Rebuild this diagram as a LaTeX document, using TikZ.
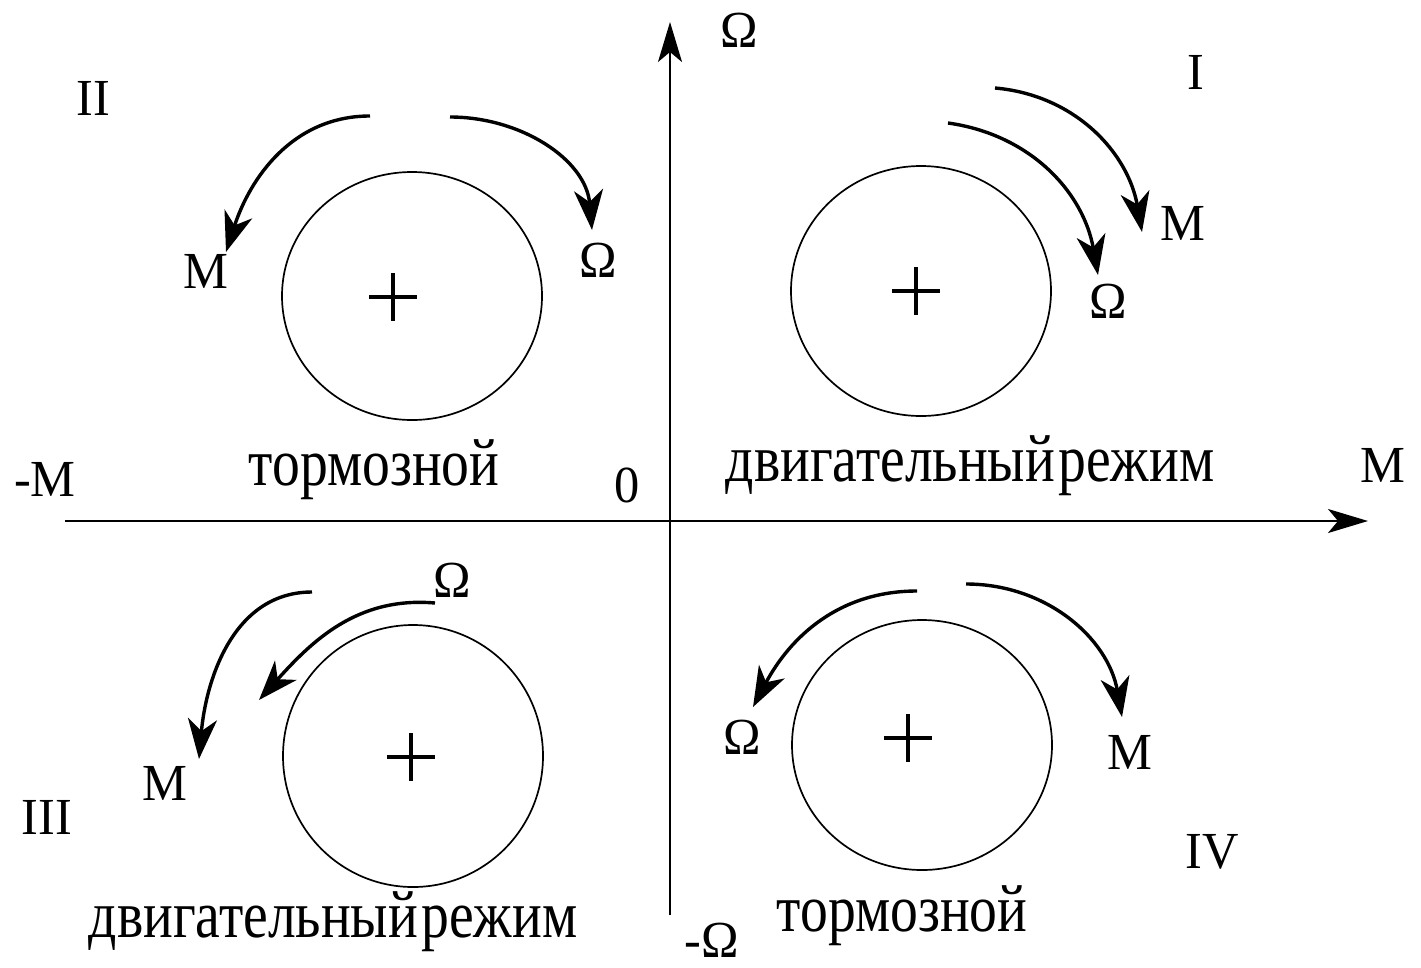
\documentclass[tikz,border=0pt]{standalone}
\usepackage{fontspec}
\setmainfont{Liberation Serif}
\usetikzlibrary{arrows.meta}
\begin{document}
\begin{tikzpicture}[x=1pt,y=-1pt,
  axis/.style={line width=2.2pt,-{Stealth[length=40pt,width=24pt,inset=10pt]}},
  rot/.style={line width=3.4pt,-{Stealth[length=40pt,width=29pt,inset=12pt]}},
  wheel/.style={draw,line width=1.7pt},
  cross/.style={line width=4.2pt},
  lbl/.style={font=\fontsize{52}{52}\selectfont,inner sep=0pt,xscale=0.97,transform shape},
  modecap/.style={font=\fontsize{67}{67}\selectfont,inner sep=0pt,xscale=0.83,transform shape}]
\useasboundingbox (0,0) rectangle (1421,967);
% axes
\coordinate (xs) at (65,521);
\coordinate (xe) at (1368,521);
\coordinate (ys) at (670,915);
\coordinate (ye) at (670,22);
\draw[axis] (xs) -- (xe);
\draw[axis] (ys) -- (ye);
\node[lbl] (lO) at (739,30) {Ω};
\node[lbl] (lmO) at (712,940) {-Ω};
\node[lbl] (lz) at (627,485) {0};
\node[lbl] (lmM) at (45,479) {-M};
\node[lbl] (lM) at (1383,465) {M};
\node[lbl] (q1) at (1196,72) {I};
\node[lbl] (q2) at (93,98) {II};
\node[lbl] (q3) at (47,817) {III};
\node[lbl] (q4) at (1212,852) {IV};
\node[modecap] (c2) at (374,470) {тормозной};
\node[modecap] (c1) at (970,466) {двигательный\hspace{0.06em}режим};
\node[modecap] (c3) at (333,922) {двигательный\hspace{0.06em}режим};
\node[modecap] (c4) at (902,916) {тормозной};
% quadrant II
\draw[wheel] (412,296) ellipse [x radius=130, y radius=124];
\draw[cross] (369,297) -- (417,297) (393,273) -- (393,321);
\coordinate (a2s) at (370,116);
\coordinate (a2e) at (226,252);
\coordinate (b2s) at (450,117);
\coordinate (b2e) at (592,230);
\draw[rot] (a2s) to[out=180,in=72] (a2e);
\draw[rot] (b2s) to[out=0,in=95] (b2e);
\node[lbl] (m2) at (206,271) {M};
\node[lbl] (o2) at (598,260) {Ω};
% quadrant I
\draw[wheel] (921,291) ellipse [x radius=130, y radius=125];
\draw[cross] (892,291) -- (940,291) (916,267) -- (916,315);
\coordinate (a1s) at (995,88);
\coordinate (a1e) at (1142,232);
\coordinate (b1s) at (948,123);
\coordinate (b1e) at (1098,275);
\draw[rot] (a1s) to[out=-5,in=100] (a1e);
\draw[rot] (b1s) to[out=-8,in=100] (b1e);
\node[lbl] (m1) at (1183,223) {M};
\node[lbl] (o1) at (1108,301) {Ω};
% quadrant III
\draw[wheel] (413,756) ellipse [x radius=130, y radius=131];
\draw[cross] (387,757) -- (435,757) (411,733) -- (411,781);
\coordinate (a3s) at (312,592);
\coordinate (a3e) at (199,759);
\coordinate (b3s) at (435,603);
\coordinate (b3e) at (259,700);
\draw[rot] (a3s) to[out=180,in=85] (a3e);
\draw[rot] (b3s) to[out=175,in=48] (b3e);
\node[lbl] (m3) at (165,783) {M};
\node[lbl] (o3) at (452,580) {Ω};
% quadrant IV
\draw[wheel] (922,745) ellipse [x radius=130, y radius=125];
\draw[cross] (884,738) -- (932,738) (908,714) -- (908,762);
\coordinate (a4s) at (917,591);
\coordinate (a4e) at (753,707);
\coordinate (b4s) at (966,584);
\coordinate (b4e) at (1122,717);
\draw[rot] (a4s) to[out=180,in=62] (a4e);
\draw[rot] (b4s) to[out=0,in=100] (b4e);
\node[lbl] (o4) at (742,737) {Ω};
\node[lbl] (m4) at (1130,752) {M};
\end{tikzpicture}
\end{document}
